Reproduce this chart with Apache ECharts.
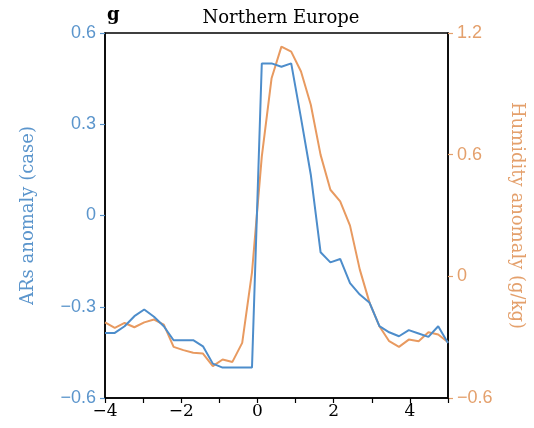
<!DOCTYPE html>
<html>
<head>
<meta charset="utf-8">
<script src="https://cdn.jsdelivr.net/npm/echarts@6/dist/echarts.min.js"></script>
<style>
  html, body { margin: 0; padding: 0; background: #fff; }
  #chart { width: 534px; height: 428px; }
</style>
</head>
<body>
<div id="chart"></div>
<script>
// Lag (days) of each composite sample, evenly spaced from -4 to 5
const lags = [-4, -3.743, -3.486, -3.229, -2.971, -2.714, -2.457, -2.2, -1.943, -1.686,
  -1.429, -1.171, -0.914, -0.657, -0.4, -0.143, 0.114, 0.371, 0.629, 0.886,
  1.143, 1.4, 1.657, 1.914, 2.171, 2.429, 2.686, 2.943, 3.2, 3.457,
  3.714, 3.971, 4.229, 4.486, 4.743, 5];

// AR occurrence anomaly (cases), left axis
const arAnomaly = [-0.386, -0.386, -0.364, -0.331, -0.309, -0.333, -0.364, -0.41, -0.41, -0.41,
  -0.43, -0.487, -0.5, -0.5, -0.5, -0.5, 0.5, 0.5, 0.489, 0.5,
  0.32, 0.134, -0.121, -0.154, -0.143, -0.222, -0.26, -0.287, -0.364, -0.384,
  -0.397, -0.377, -0.388, -0.399, -0.364, -0.419];

// Specific humidity anomaly (g/kg), right axis
const humidityAnomaly = [-0.227, -0.254, -0.23, -0.251, -0.227, -0.213, -0.238, -0.348, -0.364, -0.377,
  -0.381, -0.443, -0.41, -0.422, -0.328, 0.02, 0.59, 0.977, 1.133, 1.108,
  1.01, 0.846, 0.599, 0.427, 0.37, 0.25, 0.033, -0.131, -0.246, -0.32,
  -0.348, -0.312, -0.32, -0.276, -0.287, -0.325];

const xTicks = [-4, -2, 0, 2, 4];
const leftTicks = [-0.6, -0.3, 0, 0.3, 0.6];
const rightTicks = [-0.6, 0, 0.6, 1.2];

const BLUE = '#4d8dcb';
const ORANGE = '#e89a60';
const BLUE_TEXT = '#5b95cc';
const ORANGE_TEXT = '#e4a06c';
const SERIF = 'DejaVu Serif';

const fmt = v => {
  const r = Math.round(v * 10) / 10;
  if (r === 0) return '0';
  return (r < 0 ? '\u2212' : '') + Math.abs(r).toFixed(1);
};

const chart = echarts.init(document.getElementById('chart'), null, { renderer: 'canvas' });

chart.setOption({
  animation: false,
  backgroundColor: '#fff',
  title: {
    text: 'Northern Europe',
    left: 276, textAlign: 'center',
    top: 4,
    textStyle: { fontFamily: SERIF, fontWeight: 'normal', fontSize: 18, color: '#000' }
  },
  graphic: [{
    type: 'text', left: 107, top: 6,
    style: { text: 'g', font: 'bold 18px "DejaVu Serif"', fill: '#000' }
  }],
  grid: {
    left: 105, right: 86, top: 33, bottom: 30,
    show: true, borderColor: '#000', borderWidth: 1.5, backgroundColor: 'transparent'
  },
  xAxis: {
    type: 'value', min: -4, max: 5, interval: 1,
    axisLine: { show: true, onZero: false, lineStyle: { color: '#000', width: 1.5 } },
    axisTick: { show: true, length: 5, lineStyle: { color: '#000', width: 1.2 } },
    splitLine: { show: false },
    axisLabel: {
      margin: 5,
      fontFamily: SERIF, fontSize: 17, color: '#000',
      formatter: v => xTicks.includes(v) ? (v < 0 ? '\u2212' + Math.abs(v) : String(v)) : ''
    }
  },
  yAxis: [{
    type: 'value', min: -0.6, max: 0.6, interval: 0.3, position: 'left',
    name: 'ARs anomaly (case)', nameLocation: 'middle', nameGap: 68, nameRotate: 90,
    nameTextStyle: { fontFamily: SERIF, fontSize: 18, color: BLUE_TEXT },
    axisLine: { show: true, onZero: false, lineStyle: { color: '#000', width: 1.5 } },
    axisTick: { show: true, length: 5, lineStyle: { color: BLUE_TEXT, width: 1.2 } },
    splitLine: { show: false },
    axisLabel: {
      margin: 9, fontFamily: 'Liberation Sans', fontSize: 18, color: BLUE_TEXT,
      formatter: v => leftTicks.some(t => Math.abs(t - v) < 1e-6) ? fmt(v) : ''
    }
  }, {
    type: 'value', min: -0.6, max: 1.2, interval: 0.6, position: 'right',
    name: 'Humidity anomaly (g/kg)', nameLocation: 'middle', nameGap: 60, nameRotate: -90,
    nameTextStyle: { fontFamily: SERIF, fontSize: 18, color: ORANGE_TEXT },
    axisLine: { show: true, onZero: false, lineStyle: { color: '#000', width: 1.5 } },
    axisTick: { show: true, length: 5, lineStyle: { color: ORANGE_TEXT, width: 1.2 } },
    splitLine: { show: false },
    axisLabel: {
      margin: 9, fontFamily: 'Liberation Sans', fontSize: 18, color: ORANGE_TEXT,
      formatter: v => rightTicks.some(t => Math.abs(t - v) < 1e-6) ? fmt(v) : ''
    }
  }],
  series: [{
    name: 'Humidity', type: 'line', yAxisIndex: 1,
    data: lags.map((x, i) => [x, humidityAnomaly[i]]),
    showSymbol: false, lineStyle: { color: ORANGE, width: 2 }, z: 2
  }, {
    name: 'ARs', type: 'line', yAxisIndex: 0,
    data: lags.map((x, i) => [x, arAnomaly[i]]),
    showSymbol: false, lineStyle: { color: BLUE, width: 2 }, z: 3
  }]
});
</script>
</body>
</html>
